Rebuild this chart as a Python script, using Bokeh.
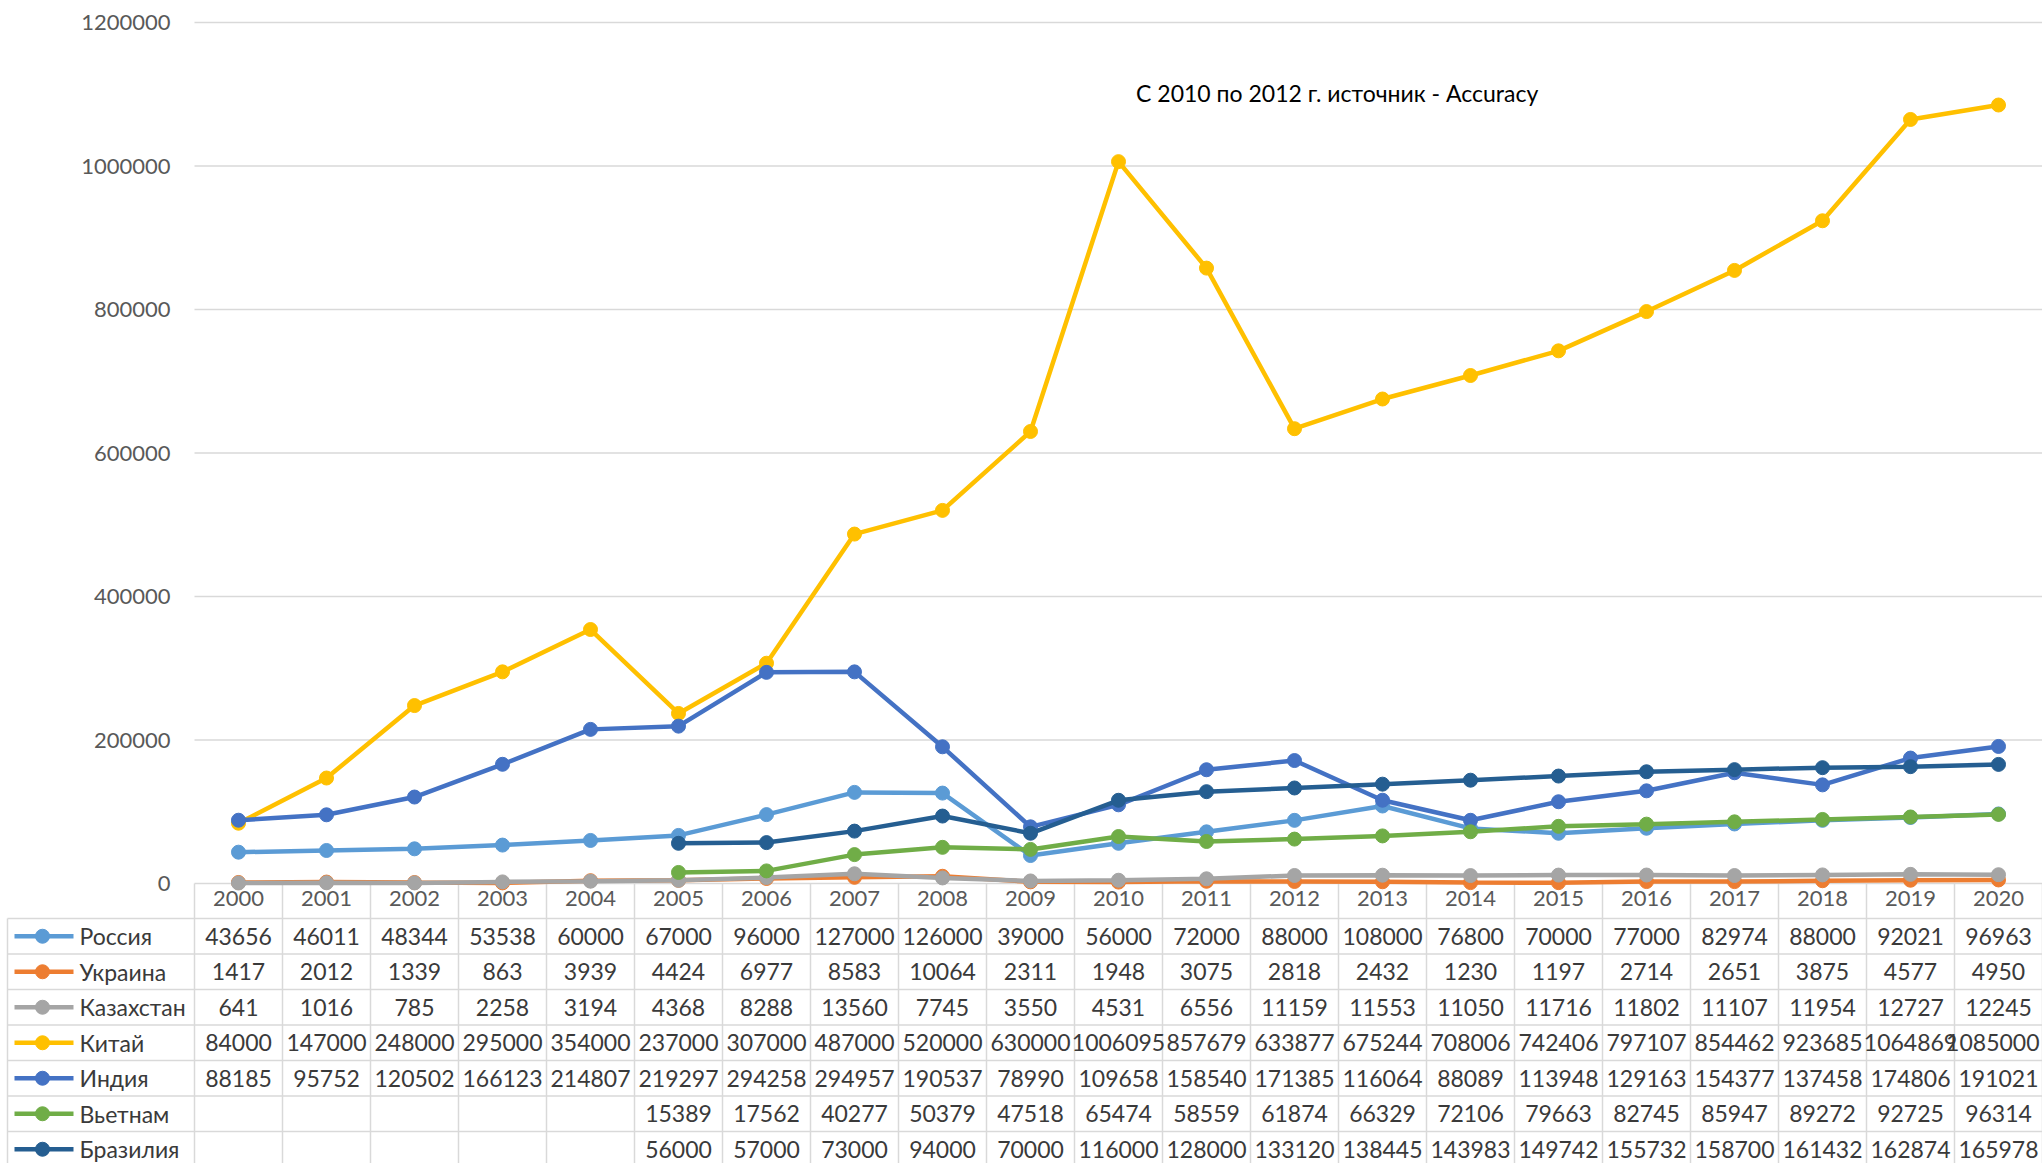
import numpy as np
from bokeh.plotting import figure
from bokeh.models import Range1d, FixedTicker, Label, ColumnDataSource, BasicTickFormatter, LinearAxis
from bokeh.core.properties import value
from bokeh.embed import file_html
from bokeh.resources import INLINE

years = [str(y) for y in range(2000, 2021)]
russia = [43656, 46011, 48344, 53538, 60000, 67000, 96000, 127000, 126000, 39000, 56000,
          72000, 88000, 108000, 76800, 70000, 77000, 82974, 88000, 92021, 96963]
ukraine = [1417, 2012, 1339, 863, 3939, 4424, 6977, 8583, 10064, 2311, 1948,
           3075, 2818, 2432, 1230, 1197, 2714, 2651, 3875, 4577, 4950]
kazakhstan = [641, 1016, 785, 2258, 3194, 4368, 8288, 13560, 7745, 3550, 4531,
              6556, 11159, 11553, 11050, 11716, 11802, 11107, 11954, 12727, 12245]
china = [84000, 147000, 248000, 295000, 354000, 237000, 307000, 487000, 520000, 630000, 1006095,
         857679, 633877, 675244, 708006, 742406, 797107, 854462, 923685, 1064869, 1085000]
india = [88185, 95752, 120502, 166123, 214807, 219297, 294258, 294957, 190537, 78990, 109658,
         158540, 171385, 116064, 88089, 113948, 129163, 154377, 137458, 174806, 191021]
vietnam = [None, None, None, None, None, 15389, 17562, 40277, 50379, 47518, 65474,
           58559, 61874, 66329, 72106, 79663, 82745, 85947, 89272, 92725, 96314]
brazil = [None, None, None, None, None, 56000, 57000, 73000, 94000, 70000, 116000,
          128000, 133120, 138445, 143983, 149742, 155732, 158700, 161432, 162874, 165978]

series_names = ["Россия", "Украина", "Казахстан", "Китай", "Индия", "Вьетнам", "Бразилия"]
series_values = [russia, ukraine, kazakhstan, china, india, vietnam, brazil]
series_colors = ["#5B9BD5", "#ED7D31", "#A5A5A5", "#FFC000", "#4472C4", "#70AD47", "#255E91"]
y_ticks = [0, 200000, 400000, 600000, 800000, 1000000, 1200000]
note_text = "С 2010 по 2012 г. источник - Accuracy"

FONT = "Lato"
GRID = "#d9d9d9"
TXT = "#3a3a3a"
W, H = 2042, 1163
Y0 = 883                   # pixel row of value 0
Y_MAX = 22                 # pixel row of 1 200 000
UPP = 1200000 / (Y0 - Y_MAX)
PLOT_LEFT = 194            # pixel column where the category area starts
PX_COL = (W - PLOT_LEFT) / 21.0
HDR = 35.0                 # header row height (px)
ROW = 35.5                 # table row height (px)
VAL_FS = 23                # table text size (px)

n = len(years)
xs = list(range(n))
x_start = -0.5 - PLOT_LEFT / PX_COL
y_end = Y0 * UPP
y_start = -(H - Y0) * UPP
# table coordinate: 0 at bottom of header row, +1 per table row downward
t_top = -(Y0 + HDR) / ROW
t_bot = (H - (Y0 + HDR)) / ROW

p = figure(width=W, height=H, output_backend="svg", toolbar_location=None,
           x_range=Range1d(x_start, 20.5), y_range=Range1d(y_start, y_end),
           x_axis_location=None, y_axis_location=None,
           min_border_left=0, min_border_right=0, min_border_top=0, min_border_bottom=0)
p.extra_y_ranges = {"table": Range1d(start=t_bot, end=t_top)}
p.outline_line_color = None
p.xgrid.visible = False
p.ygrid.visible = False

# value axis (labels placed inside the left column)
yax = LinearAxis(ticker=FixedTicker(ticks=y_ticks), formatter=BasicTickFormatter(use_scientific=False))
yax.axis_line_color = None
yax.major_tick_line_color = None
yax.minor_tick_line_color = None
yax.major_tick_out = 0
yax.major_tick_in = 0
yax.major_label_standoff = -(PLOT_LEFT - 24)
yax.major_label_text_font = FONT
yax.major_label_text_font_size = "22px"
yax.major_label_text_color = "#595959"
p.add_layout(yax, "left")

# category axis (labels placed in the table header row)
xax = LinearAxis(ticker=FixedTicker(ticks=xs))
xax.major_label_overrides = {i: years[i] for i in xs}
xax.axis_line_color = None
xax.major_tick_line_color = None
xax.minor_tick_line_color = None
xax.major_tick_out = 0
xax.major_tick_in = 0
xax.major_label_standoff = -(H - Y0 - 7)
xax.major_label_text_font = FONT
xax.major_label_text_font_size = "22px"
xax.major_label_text_color = "#595959"
p.add_layout(xax, "below")

# horizontal value grid lines (only over the category area)
p.segment(x0=[-0.5] * len(y_ticks), x1=[20.5] * len(y_ticks), y0=y_ticks, y1=y_ticks,
          line_color=GRID, line_width=1.5)

# table borders
hdr_top = -HDR / ROW
n_rows = len(series_names)
vx = [i - 0.5 for i in range(n + 1)]
p.segment(x0=vx, x1=vx, y0=[hdr_top] * len(vx), y1=[n_rows + 1] * len(vx),
          line_color=GRID, line_width=1.5, y_range_name="table")
p.segment(x0=[x_start + 7 / PX_COL], x1=[x_start + 7 / PX_COL], y0=[0], y1=[n_rows + 1],
          line_color=GRID, line_width=1.5, y_range_name="table")
hy = list(range(n_rows + 1))
p.segment(x0=[x_start + 7 / PX_COL] * len(hy), x1=[20.5] * len(hy), y0=hy, y1=hy,
          line_color=GRID, line_width=1.5, y_range_name="table")

# series
for name, vals, col in zip(series_names, series_values, series_colors):
    y = np.array([np.nan if v is None else v for v in vals], dtype=float)
    src = ColumnDataSource(dict(x=xs, y=y))
    p.line("x", "y", source=src, line_width=4.5, line_color=col)
    p.scatter("x", "y", source=src, size=14, fill_color=col, line_color=col)

p.add_layout(Label(x=10.2, y=(Y0 - 92) * UPP, text=note_text, text_font=FONT,
                   text_font_size="23px", text_color="black", text_baseline="middle"))

# legend keys in the first table column
rows_c = [r + 0.5 for r in range(n_rows)]
key_src = ColumnDataSource(dict(
    x0=[x_start + 14 / PX_COL] * n_rows, x1=[x_start + 73 / PX_COL] * n_rows,
    xm=[x_start + 42 / PX_COL] * n_rows, xt=[x_start + 79 / PX_COL] * n_rows,
    y=rows_c, color=series_colors, name=series_names))
p.segment(x0="x0", y0="y", x1="x1", y1="y", source=key_src, line_color="color",
          line_width=4.5, y_range_name="table")
p.scatter("xm", "y", source=key_src, size=14, fill_color="color", line_color="color",
          y_range_name="table")
p.text("xt", "y", text="name", source=key_src, text_font=value(FONT), text_font_size="23px",
       text_color=TXT, text_baseline="middle", text_align="left", y_range_name="table")

# table values (a text that would run past the right edge is nudged left to stay visible)
tx, ty, tt, toff = [], [], [], []
for r, vals in enumerate(series_values):
    for c, v in enumerate(vals):
        if v is not None:
            s = str(v)
            centre_px = PLOT_LEFT + (c + 0.5) * PX_COL
            half_w = len(s) * VAL_FS * 0.58 / 2
            over = centre_px + half_w - (W - 3)
            tx.append(c); ty.append(r + 0.5); tt.append(s); toff.append(-over if over > 0 else 0)
val_src = ColumnDataSource(dict(x=tx, y=ty, text=tt, off=toff))
p.text("x", "y", text="text", x_offset="off", source=val_src, text_font=value(FONT),
       text_font_size=f"{VAL_FS}px", text_color=TXT, text_baseline="middle",
       text_align="center", y_range_name="table")

open("out.html", "w").write(file_html(p, INLINE))
